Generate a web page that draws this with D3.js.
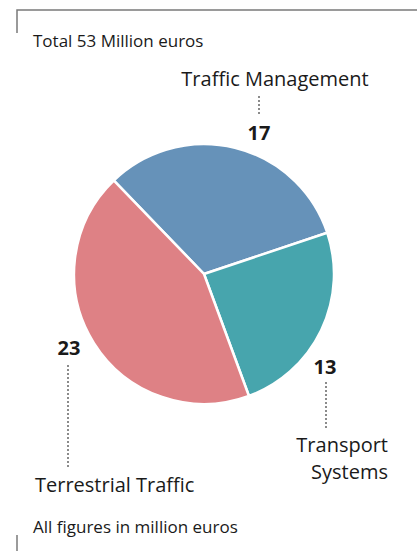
<!DOCTYPE html>
<html>
<head>
<meta charset="utf-8">
<script src="https://cdn.jsdelivr.net/npm/d3@7"></script>
<style>
  html, body { margin: 0; padding: 0; background: #fff; }
  text { font-family: "Open Sans", sans-serif; fill: #1a1a1a; }
</style>
</head>
<body>
<div id="chart"></div>
<script>
// data
const categories = ["Traffic Management", "Transport Systems", "Terrestrial Traffic"];
const values = [17, 13, 23];
const colors = ["#6692b9", "#47a5ad", "#de8185"];
const title = "Total 53 Million euros";
const footnote = "All figures in million euros";

// label layout (per category, same order as above)
const labelLayout = [
  {num: [259, 140], line: [96, 116], lineX: 259, name: ["Traffic Management"], nameX: 275, nameY: 86, anchor: "middle"},
  {num: [325, 374], line: [382, 428], lineX: 326, name: ["Transport", "Systems"], nameX: 388, nameY: 452, anchor: "end"},
  {num: [69, 355], line: [365, 468], lineX: 68, name: ["Terrestrial Traffic"], nameX: 35, nameY: 492, anchor: "start"}
];

const width = 417, height = 551;
const cx = 204, cy = 274, radius = 130;

const svg = d3.select("#chart").append("svg")
  .attr("width", width)
  .attr("height", height);

// frame corners
svg.append("path")
  .attr("d", `M17,33V10H${width}`)
  .attr("fill", "none")
  .attr("stroke", "#7a7a7a")
  .attr("stroke-width", 1.5);
svg.append("line")
  .attr("x1", 17).attr("x2", 17)
  .attr("y1", 535).attr("y2", height)
  .attr("stroke", "#7a7a7a")
  .attr("stroke-width", 1.5);

svg.append("text")
  .attr("x", 33).attr("y", 47)
  .attr("font-size", "17px")
  .text(title);

svg.append("text")
  .attr("x", 33).attr("y", 533)
  .attr("font-size", "17px")
  .text(footnote);

const pie = d3.pie()
  .sort(null)
  .startAngle(-44 * Math.PI / 180)
  .endAngle((360 - 44) * Math.PI / 180);

const arc = d3.arc()
  .innerRadius(0)
  .outerRadius(radius);

const g = svg.append("g")
  .attr("transform", `translate(${cx},${cy})`);

g.selectAll("path")
  .data(pie(values))
  .join("path")
  .attr("d", arc)
  .attr("fill", (d, i) => colors[i])
  .attr("stroke", "#fff")
  .attr("stroke-width", 2.5)
  .attr("stroke-linejoin", "round");

// labels
labelLayout.forEach((l, i) => {
  svg.append("line")
    .attr("x1", l.lineX).attr("x2", l.lineX)
    .attr("y1", l.line[0]).attr("y2", l.line[1])
    .attr("stroke", "#666")
    .attr("stroke-width", 1.5)
    .attr("stroke-dasharray", "2,2");

  svg.append("text")
    .attr("x", l.num[0]).attr("y", l.num[1])
    .attr("text-anchor", "middle")
    .attr("font-size", "20px")
    .attr("font-weight", "700")
    .text(values[i]);

  const t = svg.append("text")
    .attr("x", l.nameX).attr("y", l.nameY)
    .attr("text-anchor", l.anchor)
    .attr("font-size", "20px");
  l.name.forEach((line, j) => {
    t.append("tspan")
      .attr("x", l.nameX)
      .attr("dy", j === 0 ? 0 : 27)
      .text(line);
  });
});
</script>
</body>
</html>
